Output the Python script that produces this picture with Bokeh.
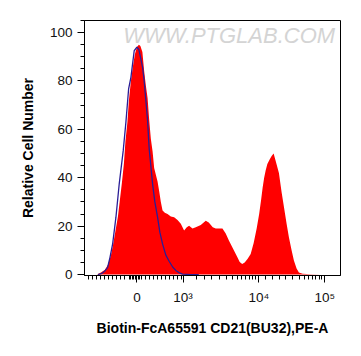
from bokeh.plotting import figure
from bokeh.models import Range1d, FixedTicker, Label
from bokeh.embed import file_html
from bokeh.resources import INLINE

# x positions are on the display (biexponential) channel scale of the axis
sample_x = [12.5, 16.5, 20.5, 23.5, 26.5, 28.5, 31.0, 33.5, 35.5, 37.5, 39.5, 41.0, 43.0,
            44.5, 46.5, 48.5, 50.5, 52.5, 54.5, 56.0, 58.0, 59.8, 61.5, 63.2, 64.8, 66.5,
            68.2, 69.8, 73.2, 75.0, 76.5, 78.2, 80.5, 83.2, 86.5, 89.8, 93.2, 96.5, 99.8,
            102.5, 104.8, 108.2, 111.5, 116.5, 121.5, 124.5, 128.5, 131.5, 138.2, 141.5,
            144.8, 148.5, 153.2, 155.5, 158.0, 160.5, 163.5, 166.5, 169.5, 172.5, 175.0,
            177.0, 178.5, 180.0, 181.5, 183.2, 185.5, 187.5, 189.5, 191.5, 194.8, 197.5,
            199.8, 202.5, 204.8, 207.5, 209.8, 212.5, 214.8, 218.5, 226.5, 236.5]
sample_y = [0.0, 0.8, 2.0, 4.0, 8.0, 12.0, 18.0, 24.0, 31.0, 38.0, 46.0, 55.0, 63.0,
            72.0, 80.0, 86.0, 91.0, 94.0, 95.0, 94.5, 92.0, 84.0, 78.0, 73.0, 64.0, 56.0,
            51.0, 44.0, 38.5, 34.0, 30.0, 26.5, 25.5, 25.0, 24.0, 23.7, 22.5, 21.0, 18.2,
            19.5, 20.2, 19.0, 19.5, 20.5, 22.2, 21.5, 19.5, 19.0, 19.0, 17.0,
            14.0, 11.0, 7.1, 5.2, 4.4, 5.0, 6.5, 8.5, 13.0, 19.0, 25.0,
            31.0, 36.0, 40.0, 43.0, 45.7, 47.5, 49.0, 50.0, 47.0, 42.0, 34.0,
            28.0, 21.0, 15.4, 10.0, 5.8, 2.5, 0.8, 0.3, 0.1, 0.0]

control_x = [13.5, 17.5, 20.5, 23.2, 25.5, 28.2, 31.5, 34.8, 38.8, 41.5, 44.2, 46.5, 49.8,
             52.5, 54.5, 56.5, 58.2, 59.8, 61.5, 63.2, 64.8, 68.2, 70.5, 73.2, 75.5, 78.2,
             81.5, 84.8, 88.5, 91.5, 94.5, 98.2, 106.5, 114.5]
control_y = [0.0, 0.5, 1.5, 3.0, 7.0, 12.7, 23.7, 37.5, 51.2, 63.0, 76.7, 81.5, 92.5,
             94.0, 93.0, 89.0, 85.6, 80.0, 71.9, 63.6, 52.0, 37.5, 30.0, 23.7, 17.5, 12.7,
             8.0, 5.5, 3.0, 1.7, 0.8, 0.2, 0.0, 0.0]

x_tick_pos = [52.5, 98.8, 174.8, 240.8]
x_tick_labels = ["0", "10\u00b3", "10\u2074", "10\u2075"]
x_minor_pos = [4.2, 8.2, 12.2, 16.2, 20.2, 24.2, 28.2, 32.2, 36.2, 40.2,
               45.0, 46.5, 48.0, 49.5, 51.0, 54.0, 55.5,
               57.5, 61.5, 65.5, 69.5, 73.5, 77.5, 81.5, 85.5, 89.5, 93.5, 97.5,
               111.8, 120.2, 126.8, 135.2, 141.8, 147.8, 152.8, 157.8, 161.8, 165.2, 168.5, 171.2,
               181.2, 188.5, 195.2, 201.8, 208.5, 215.2, 220.2, 224.5, 228.5, 231.8, 235.2, 237.8]
y_ticks = [0, 20, 40, 60, 80, 100]
y_minor = [5, 10, 15, 25, 30, 35, 45, 50, 55, 65, 70, 75, 85, 90, 95, 105]

FONT = "Liberation Sans"

p = figure(width=358, height=352, output_backend="svg", toolbar_location=None,
           x_range=Range1d(0, 256.5), y_range=Range1d(-0.4, 105),
           min_border_left=84, min_border_right=18, min_border_top=20, min_border_bottom=77)
p.grid.visible = False
p.outline_line_color = "black"
p.outline_line_width = 1
p.background_fill_color = "white"
p.border_fill_color = "white"

p.varea(x=sample_x, y1=0, y2=sample_y, fill_color="#ff0000")
p.line(control_x, control_y, line_color="#2a1d96", line_width=1.3)

wm = Label(x=145, y=99, text="WWW.PTGLAB.COM", text_align="center", text_baseline="middle",
           text_font=FONT, text_font_size="22px", text_font_style="italic",
           text_color="#d4d4d4")
p.add_layout(wm)

xa = p.xaxis[0]
xa.ticker = FixedTicker(ticks=x_tick_pos, minor_ticks=x_minor_pos)
xa.major_label_overrides = {t: l for t, l in zip(x_tick_pos, x_tick_labels)}
ya = p.yaxis[0]
ya.ticker = FixedTicker(ticks=y_ticks, minor_ticks=y_minor)

for ax in (xa, ya):
    ax.axis_line_color = "black"
    ax.major_tick_in = 0
    ax.major_tick_out = 7
    ax.minor_tick_in = 0
    ax.minor_tick_out = 4
    ax.major_tick_line_color = "black"
    ax.minor_tick_line_color = "black"
    ax.major_label_text_font = FONT
    ax.major_label_text_font_size = "13.5px"
    ax.major_label_text_color = "#111111"
    ax.axis_label_text_font = FONT
    ax.axis_label_text_font_size = "14px"
    ax.axis_label_text_font_style = "bold"
    ax.axis_label_text_color = "black"

xa.axis_label = "Biotin-FcA65591 CD21(BU32),PE-A"
xa.major_label_standoff = 7
xa.axis_label_standoff = 12
ya.axis_label = "Relative Cell Number"
ya.major_label_standoff = 5
ya.axis_label_standoff = 11

open("out.html", "w").write(file_html(p, INLINE))
